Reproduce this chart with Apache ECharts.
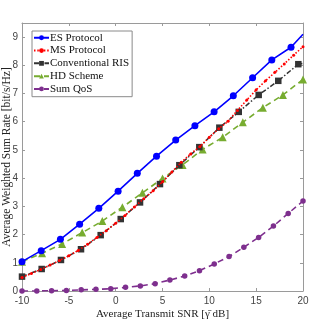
<!DOCTYPE html>
<html><head><meta charset="utf-8">
<script src="https://cdn.jsdelivr.net/npm/echarts@6/dist/echarts.min.js"></script>
<style>html,body{margin:0;padding:0;background:#fff}#c{width:332px;height:319px}</style>
</head><body><div id="c"></div>
<script>
const seriesNames = ['ES Protocol','MS Protocol','Conventional RIS','HD Scheme','Sum QoS'];
const xTicks = [-10,-5,0,5,10,15,20];
const yTicks = [0,1,2,3,4,5,6,7,8,9];

const esX = [-10,-7.95,-5.9,-3.85,-1.8,0.26,2.31,4.36,6.41,8.46,10.51,12.56,14.62,16.67,18.72,20];
const esY = [1.04,1.43,1.83,2.37,2.93,3.54,4.17,4.78,5.35,5.86,6.35,6.92,7.56,8.19,8.64,9.1];

const msX = [-10,-9,-8,-7,-6,-5,-4,-3,-2,-1,0,1,2,3,4,5,6,7,8,9,10,11,12,13,14,15,16,17,18,19,20];
const msY = [0.48,0.62,0.76,0.92,1.08,1.25,1.44,1.66,1.9,2.14,2.4,2.68,2.98,3.27,3.55,3.87,4.22,4.56,4.86,5.12,5.45,5.75,6.02,6.4,6.77,7.13,7.45,7.75,8.05,8.36,8.66];

const crX = [-10,-7.9,-5.84,-3.7,-1.6,0.54,2.6,4.73,6.8,8.93,11.07,13.14,15.27,17.36,19.5,20];
const crY = [0.51,0.78,1.1,1.48,1.98,2.55,3.14,3.79,4.46,5.1,5.79,6.35,6.95,7.45,8.04,8.07];

const hdX = [-10,-7.857,-5.714,-3.571,-1.429,0.714,2.857,5,7.143,9.286,11.429,13.571,15.714,17.857,20];
const hdY = [1.04,1.34,1.67,2.07,2.48,2.97,3.48,3.99,4.47,5.02,5.45,5.98,6.5,6.95,7.5];

const qosX = [-10,-8.421,-6.842,-5.263,-3.684,-2.105,-0.526,1.053,2.632,4.211,5.789,7.368,8.947,10.526,12.105,13.684,15.263,16.842,18.421,20];
const qosY = [0.0,0.0,0.01,0.02,0.04,0.06,0.08,0.13,0.18,0.26,0.39,0.53,0.72,0.96,1.22,1.55,1.9,2.3,2.75,3.19];

function pairs(xs, ys, lastNoMarker){
  return xs.map((x,i)=>{
    const item = {value:[x, ys[i]]};
    if (lastNoMarker && i === xs.length-1) item.symbol = 'none';
    return item;
  });
}

const serif = 'Liberation Serif, Times New Roman, serif';
const sans = 'Liberation Sans, Arial, sans-serif';
const axisCol = '#9a9a9a';

const chart = echarts.init(document.getElementById('c'), null, {renderer:'canvas'});
const baseX = {
  type:'value', min:-10, max:20, interval:5,
  axisLine:{show:true, onZero:false, lineStyle:{color:axisCol, width:1}},
  axisTick:{show:true, inside:true, length:3, lineStyle:{color:axisCol}},
  splitLine:{show:false}
};
const baseY = {
  type:'value', min:0, max:9.5, interval:1,
  axisLine:{show:true, onZero:false, lineStyle:{color:axisCol, width:1}},
  axisTick:{show:true, inside:true, length:3, lineStyle:{color:axisCol}},
  splitLine:{show:false}
};
chart.setOption({
  animation:false,
  backgroundColor:'#fff',
  grid:{left:22, right:29, top:23, bottom:28, containLabel:false, outerBoundsMode:'none'},
  legend:{
    data:seriesNames, orient:'vertical', left:32, top:31,
    backgroundColor:'#fff', borderColor:'#8a8a8a', borderWidth:1, borderRadius:0,
    padding:[1,3,2,1], itemGap:1.3, itemWidth:15, itemHeight:6,
    textStyle:{fontFamily:serif, fontSize:11, color:'#111', lineHeight:11.5, padding:[0,0,0,-4]}
  },
  xAxis:[
    Object.assign({}, baseX, {
      position:'bottom',
      name:'Average Transmit SNR [γ̄ dB]', nameLocation:'middle', nameGap:17.5, nameMoveOverlap:false,
      nameTextStyle:{fontFamily:serif, fontSize:11, color:'#222'},
      axisLabel:{fontFamily:sans, fontSize:10, color:'#444', margin:5, hideOverlap:false,
                 formatter:v=>xTicks.includes(v)?String(v):''}
    }),
    Object.assign({}, baseX, {position:'top', axisLabel:{show:false}})
  ],
  yAxis:[
    Object.assign({}, baseY, {
      position:'left',
      name:'Average Weighted Sum Rate [bit/s/Hz]', nameLocation:'middle', nameGap:9.5, nameMoveOverlap:false,
      nameTextStyle:{fontFamily:serif, fontSize:11.5, color:'#222'},
      axisLabel:{fontFamily:sans, fontSize:10, color:'#444', margin:4, hideOverlap:false,
                 formatter:v=>yTicks.includes(v)?String(v):''}
    }),
    Object.assign({}, baseY, {position:'right', axisLabel:{show:false}})
  ],
  series:[
    {name:seriesNames[0], type:'line', data:pairs(esX,esY,true), symbol:'circle', symbolSize:7,
     itemStyle:{color:'#0000ff'}, lineStyle:{color:'#0000ff', width:1.6, type:'solid'}, z:5},
    {name:seriesNames[1], type:'line', data:pairs(msX,msY,false), symbol:'circle', symbolSize:3,
     itemStyle:{color:'#ff0000'}, lineStyle:{color:'#ff0000', width:1.6, type:[1.5,1.8]}, z:4},
    {name:seriesNames[2], type:'line', data:pairs(crX,crY,true), symbol:'rect', symbolSize:6.5,
     itemStyle:{color:'#333333'}, lineStyle:{color:'#333333', width:1.5, type:[5,2,1.5,2]}, z:3},
    {name:seriesNames[3], type:'line', data:pairs(hdX,hdY,false), symbol:'triangle', symbolSize:8,
     itemStyle:{color:'#77ac30'}, lineStyle:{color:'#77ac30', width:1.6, type:[6,4]}, z:2},
    {name:seriesNames[4], type:'line', data:pairs(qosX,qosY,false), symbol:'circle', symbolSize:5.5,
     itemStyle:{color:'#7e2f8e'}, lineStyle:{color:'#7e2f8e', width:1.6, type:[6,4]}, z:1}
  ]
});
</script></body></html>
